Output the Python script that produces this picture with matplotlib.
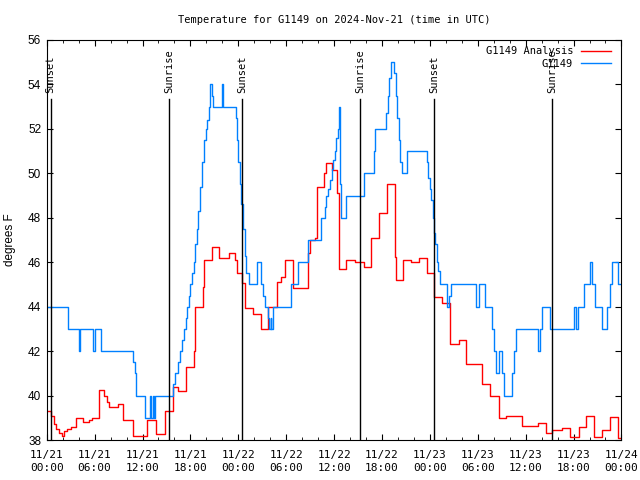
import datetime as dt
import matplotlib
matplotlib.use("Agg")
import matplotlib.pyplot as plt
import matplotlib.dates as mdates

# ---------------------------------------------------------------
# Data (hours after 2024-11-21 00:00 UTC, degrees F)

start = dt.datetime(2024, 11, 21, 0, 0)

# G1149 observations
obs_hours = [0, 2.7, 4.0, 4.15, 5.85, 6.0, 6.75, 10.8, 11.1, 11.2,
             12.3, 13.0, 13.1, 13.3, 13.4, 13.6, 15.8, 16.1, 16.4, 16.75,
             17.0, 17.2, 17.4, 17.6, 17.8, 18.0, 18.2, 18.4, 18.6, 18.8,
             19.0, 19.25, 19.5, 19.7, 19.9, 20.1, 20.3, 20.5, 20.75, 20.85,
             21.9, 22.05, 23.7, 23.8, 24.0, 24.25, 24.4, 24.6, 24.8, 25.0,
             25.3, 26.4, 26.85, 27.1, 27.4, 27.7, 27.9, 28.05, 28.1, 28.35,
             30.6, 31.5, 32.7, 34.4, 34.8, 35.0, 35.3, 35.5, 35.7, 35.9,
             36.1, 36.3, 36.45, 36.6, 36.75, 36.9, 37.5, 39.8, 40.95, 41.1,
             42.5, 42.7, 42.9, 43.1, 43.5, 43.7, 43.9, 44.1, 44.3, 44.45,
             45.15, 47.6, 47.8, 48.0, 48.2, 48.4, 48.55, 48.7, 48.85, 49.0,
             49.3, 50.1, 50.4, 50.6, 53.8, 54.1, 54.9, 55.8, 56.0, 56.3,
             56.7, 57.0, 57.3, 58.3, 58.6, 58.85, 61.5, 61.75, 62.1, 63.0,
             66.0, 66.3, 66.6, 67.3, 68.0, 68.25, 68.7, 69.6, 70.2, 70.6,
             70.85, 71.6, 72]
obs_temps = [44, 43, 42, 43, 42, 43, 42, 41.5, 41, 40,
             39, 40, 39, 40, 39, 40, 40.5, 41, 41.5, 42,
             42.5, 43, 43.5, 44, 44.5, 45, 45.5, 46, 46.8, 47.5,
             48.3, 49.4, 50.5, 51.5, 52, 52.4, 53, 54, 53.5, 53,
             54, 53, 52.5, 51.5, 50.5, 49.5, 48.6, 47.5, 46.3, 45.5,
             45, 46, 45, 44.5, 44, 43.5, 43, 43.5, 43, 44,
             45, 46, 47, 48, 48.5, 49, 49.3, 49.7, 50.2, 50.6,
             51, 51.6, 52, 53, 49.5, 48, 49, 50, 51, 52,
             52.7, 53.5, 54.3, 55, 54.5, 53.5, 52.5, 51.5, 50.5, 50,
             51, 50.5, 49.8, 49.3, 48.8, 48, 47.3, 46.8, 46, 45.6,
             45, 44, 44.5, 45, 44, 45, 44, 43, 42, 41,
             42, 41, 40, 41, 42, 43, 42, 43, 44, 43,
             44, 43, 44, 45, 46, 45, 44, 43, 44, 45,
             46, 45, 45]

# G1149 analysis
ana_hours = [0, 0.5, 0.9, 1.2, 1.6, 1.9, 2.2, 2.6, 3.0, 3.7,
             4.5, 5.3, 5.7, 6.6, 7.2, 7.5, 7.8, 8.9, 9.5, 10.8,
             12.6, 13.7, 14.8, 15.8, 16.4, 17.5, 18.4, 18.6, 19.6, 19.7,
             20.7, 21.6, 22.8, 23.6, 23.8, 24.5, 24.8, 25.8, 26.8, 27.75,
             28.8, 29.4, 29.85, 30.9, 32.75, 33.0, 33.6, 33.85, 34.7, 35.0,
             35.8, 36.35, 36.6, 37.5, 38.6, 39.7, 40.65, 41.6, 42.6, 43.6,
             43.7, 44.6, 45.6, 46.7, 47.6, 48.55, 49.5, 50.5, 51.6, 52.5,
             54.5, 55.5, 56.6, 57.6, 59.5, 61.6, 62.5, 63.3, 64.5, 65.6,
             66.7, 67.6, 68.55, 69.6, 70.6, 71.6, 72]
ana_temps = [39.3, 39.1, 38.7, 38.5, 38.3, 38.2, 38.4, 38.5, 38.6, 39.0,
             38.8, 38.9, 39.0, 40.25, 40.0, 39.7, 39.5, 39.6, 38.9, 38.2,
             38.9, 38.25, 39.3, 40.4, 40.2, 41.3, 42.0, 44.0, 44.9, 46.1,
             46.7, 46.2, 46.4, 46.1, 45.5, 45.05, 43.95, 43.65, 43.0, 44.0,
             45.1, 45.35, 46.1, 44.85, 46.4, 47.0, 47.1, 49.4, 50.0, 50.45,
             50.15, 49.1, 45.7, 46.1, 46.0, 45.8, 47.1, 48.2, 49.5, 46.25,
             45.2, 46.1, 46.0, 46.2, 45.5, 44.45, 44.15, 42.3, 42.5, 41.4,
             40.5, 40.0, 39.0, 39.1, 38.65, 38.75, 38.3, 38.45, 38.55, 38.15,
             38.6, 39.1, 38.15, 38.45, 39.05, 38.1, 38.1]

sun_hours = [0.5, 15.3, 24.5, 39.3, 48.5, 63.3]
sun_labels = ["Sunset", "Sunrise", "Sunset", "Sunrise", "Sunset", "Sunrise"]

# ---------------------------------------------------------------

def to_time(hours):
    return [start + dt.timedelta(hours=h) for h in hours]

mono = "DejaVu Sans Mono"

fig = plt.figure(figsize=(6.4, 4.8), dpi=100)
ax = fig.add_axes([0.073, 0.0833, 0.898, 0.8334])

ax.step(to_time(ana_hours), ana_temps, where="post", color="#ff0000", lw=1.0, label="G1149 Analysis")
ax.step(to_time(obs_hours), obs_temps, where="post", color="#0080ff", lw=1.0, label="G1149")

for h, lab in zip(sun_hours, sun_labels):
    t = start + dt.timedelta(hours=h)
    ax.plot([t, t], [38, 53.35], color="black", lw=1.0)
    ax.text(t, 53.6, lab, rotation=90, ha="center", va="bottom", family=mono, fontsize=7.5)

ax.set_xlim(start, start + dt.timedelta(hours=72))
ax.set_ylim(38, 56)
ax.set_yticks(range(38, 57, 2))
ax.xaxis.set_major_locator(mdates.HourLocator(byhour=[0, 6, 12, 18]))
ax.xaxis.set_minor_locator(mdates.HourLocator(interval=2))
ax.xaxis.set_major_formatter(mdates.DateFormatter("%m/%d\n%H:%M"))
for lbl in ax.get_xticklabels():
    lbl.set_family(mono)
    lbl.set_fontsize(8)
    lbl.set_linespacing(1.35)
for lbl in ax.get_yticklabels():
    lbl.set_family("Liberation Sans")
    lbl.set_fontsize(8.5)

ax.tick_params(which="both", direction="in", top=True, right=True)
ax.tick_params(which="major", length=4)
ax.tick_params(axis="x", which="major", pad=7.5)
ax.tick_params(axis="y", which="major", pad=4)
ax.tick_params(which="minor", length=2.2)

ax.set_ylabel("degrees F", family="Liberation Sans", fontsize=8.5)
ax.yaxis.set_label_coords(-0.054, 0.5)
ax.set_title("Temperature for G1149 on 2024-Nov-21 (time in UTC)", family=mono, fontsize=7.5, pad=12)

leg = ax.legend(loc="upper right", bbox_to_anchor=(0.992, 1.0), frameon=False, markerfirst=False,
                prop={"family": mono, "size": 7.5},
                handlelength=2.8, borderaxespad=0.2, labelspacing=0.25, handletextpad=0.8)
for t in leg.get_texts():
    t.set_ha("right")

fig.savefig("out.png", dpi=100)
